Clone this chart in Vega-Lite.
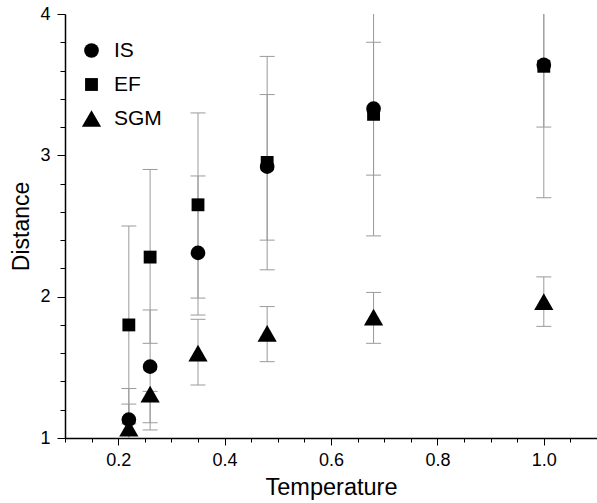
{
  "$schema": "https://vega.github.io/schema/vega-lite/v6.json",
  "width": 532,
  "height": 424,
  "autosize": {"type": "none"},
  "padding": {"left": 65, "top": 14, "right": 0, "bottom": 65},
  "background": "white",
  "config": {
    "view": {"stroke": null},
    "font": "Liberation Sans",
    "axis": {"grid": false, "tickColor": "black", "tickWidth": 1, "domainColor": "black", "domainWidth": 1.5, "labelColor": "black", "titleColor": "black", "titleFontWeight": "normal"}
  },
  "data": {
    "values": [
      {"series": "IS", "temp": 0.22, "dist": 1.13, "lo": 0.91, "hi": 1.35},
      {"series": "EF", "temp": 0.22, "dist": 1.80, "lo": 1.10, "hi": 2.50},
      {"series": "SGM", "temp": 0.22, "dist": 1.07, "lo": 0.90, "hi": 1.24},
      {"series": "IS", "temp": 0.26, "dist": 1.505, "lo": 1.108, "hi": 1.906},
      {"series": "EF", "temp": 0.26, "dist": 2.28, "lo": 1.67, "hi": 2.90},
      {"series": "SGM", "temp": 0.26, "dist": 1.31, "lo": 1.057, "hi": 1.33},
      {"series": "IS", "temp": 0.35, "dist": 2.31, "lo": 1.87, "hi": 2.854},
      {"series": "EF", "temp": 0.35, "dist": 2.65, "lo": 1.99, "hi": 3.30},
      {"series": "SGM", "temp": 0.35, "dist": 1.60, "lo": 1.375, "hi": 1.84},
      {"series": "IS", "temp": 0.48, "dist": 2.92, "lo": 2.40, "hi": 3.43},
      {"series": "EF", "temp": 0.48, "dist": 2.95, "lo": 2.19, "hi": 3.70},
      {"series": "SGM", "temp": 0.48, "dist": 1.74, "lo": 1.54, "hi": 1.93},
      {"series": "IS", "temp": 0.68, "dist": 3.33, "lo": 2.86, "hi": 3.80},
      {"series": "EF", "temp": 0.68, "dist": 3.29, "lo": 2.43, "hi": 4.15},
      {"series": "SGM", "temp": 0.68, "dist": 1.855, "lo": 1.67, "hi": 2.03},
      {"series": "IS", "temp": 1.0, "dist": 3.64, "lo": 3.20, "hi": 4.08},
      {"series": "EF", "temp": 1.0, "dist": 3.63, "lo": 2.70, "hi": 4.56},
      {"series": "SGM", "temp": 1.0, "dist": 1.965, "lo": 1.79, "hi": 2.14}
    ]
  },
  "layer": [
    {
      "mark": {"type": "rule", "clip": true, "color": "#9a9a9a", "strokeWidth": 1},
      "encoding": {
        "x": {"field": "temp", "type": "quantitative",
          "scale": {"domain": [0.1, 1.1], "nice": false, "zero": false},
          "axis": {"values": [0.2, 0.4, 0.6, 0.8, 1.0], "format": ".1f", "tickSize": 7, "labelFontSize": 18, "labelPadding": 6, "labelFlush": false, "title": "Temperature", "titleFontSize": 23.5, "titlePadding": 6, "orient": "bottom"}},
        "y": {"field": "lo", "type": "quantitative",
          "scale": {"domain": [1, 4], "nice": false, "zero": false},
          "axis": {"values": [1, 2, 3, 4], "format": "d", "tickSize": 8, "labelFontSize": 18, "labelPadding": 7, "labelFlush": false, "title": "Distance", "titleFontSize": 23, "titlePadding": 6, "orient": "left"}},
        "y2": {"field": "hi"}
      }
    },
    {
      "transform": [{"fold": ["lo", "hi"], "as": ["end", "val"]}],
      "mark": {"type": "tick", "orient": "horizontal", "clip": true, "color": "#9a9a9a", "size": 15, "thickness": 1, "opacity": 1},
      "encoding": {
        "x": {"field": "temp", "type": "quantitative",
          "axis": {"values": [0.1, 0.15, 0.25, 0.3, 0.35, 0.45, 0.5, 0.55, 0.65, 0.7, 0.75, 0.85, 0.9, 0.95, 1.05], "labels": false, "domain": false, "tickSize": 4, "title": null, "orient": "bottom"}},
        "y": {"field": "val", "type": "quantitative",
          "axis": {"values": [1.2, 1.4, 1.6, 1.8, 2.2, 2.4, 2.6, 2.8, 3.2, 3.4, 3.6, 3.8], "labels": false, "domain": false, "tickSize": 5, "title": null, "orient": "left"}}
      }
    },
    {
      "mark": {"type": "point", "filled": true, "opacity": 1, "color": "black"},
      "encoding": {
        "x": {"field": "temp", "type": "quantitative", "axis": null},
        "y": {"field": "dist", "type": "quantitative", "axis": null},
        "shape": {"field": "series", "type": "nominal",
          "scale": {"domain": ["IS", "EF", "SGM"], "range": ["circle", "square", "triangle-up"]},
          "legend": {"orient": "none", "legendX": 16, "legendY": 26, "title": null, "labelFontSize": 21, "labelOffset": 12, "rowPadding": 12, "padding": 0, "symbolFillColor": "black", "symbolStrokeWidth": 0, "labelColor": "black"}},
        "size": {"field": "series", "type": "nominal",
          "scale": {"type": "ordinal", "domain": ["IS", "EF", "SGM"], "range": [215, 165, 370]},
          "legend": {"orient": "none", "legendX": 16, "legendY": 26, "title": null, "labelFontSize": 21, "labelOffset": 12, "rowPadding": 12, "padding": 0, "symbolFillColor": "black", "symbolStrokeWidth": 0, "labelColor": "black"}}
      }
    }
  ],
  "resolve": {"axis": {"x": "independent", "y": "independent"}}
}
